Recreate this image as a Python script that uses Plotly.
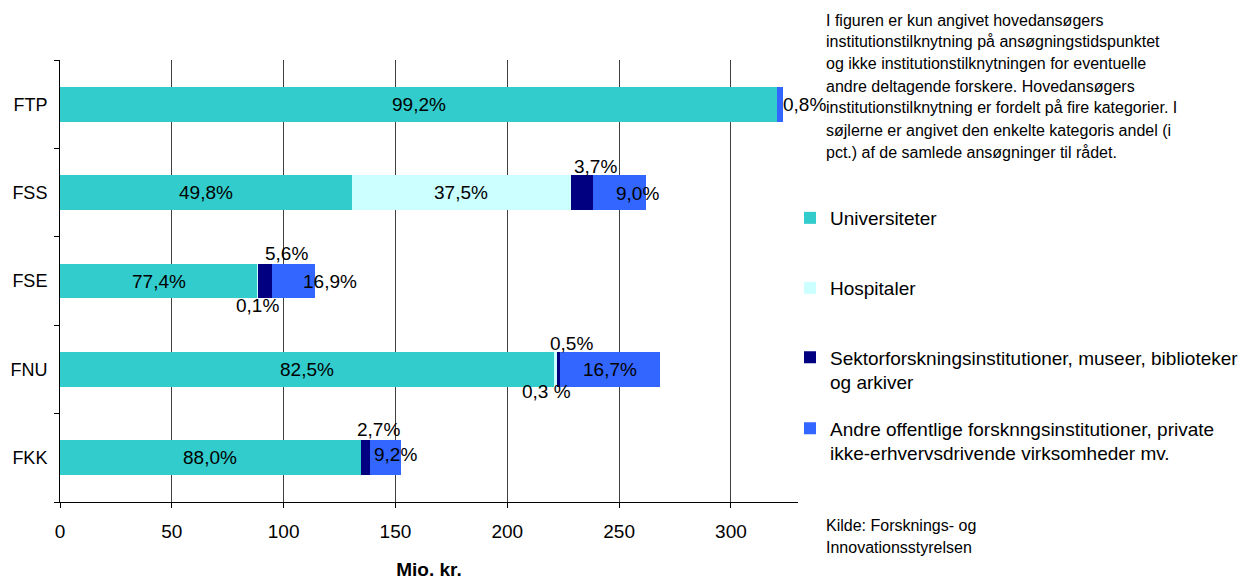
import plotly.graph_objects as go

# categories bottom -> top (plotly draws the first category at the bottom)
categories = ["FKK", "FNU", "FSE", "FSS", "FTP"]

# Mio. kr. per institution type
universiteter = [134.4, 221.3, 88.4, 130.4, 320.7]
hospitaler = [0.0, 0.8, 0.1, 98.2, 0.0]
sektor = [4.1, 1.3, 6.4, 9.7, 0.0]
andre = [14.0, 44.8, 19.3, 23.6, 2.6]

# share labels shown in the bars
univ_labels = ["88,0%", "82,5%", "77,4%", "49,8%", "99,2%"]
hosp_labels = ["", "0,3 %", "0,1%", "37,5%", ""]
sektor_labels = ["2,7%", "0,5%", "5,6%", "3,7%", ""]
andre_labels = ["9,2%", "16,7%", "16,9%", "9,0%", "0,8%"]

x_ticks = [0, 50, 100, 150, 200, 250, 300]

legend_names = [
    "Universiteter",
    "Hospitaler",
    "Sektorforskningsinstitutioner, museer, biblioteker<br>og arkiver",
    "Andre offentlige forsknngsinstitutioner, private<br>ikke-erhvervsdrivende virksomheder mv.",
]

note_lines = [
    "I figuren er kun angivet hovedansøgers",
    "institutionstilknytning på ansøgningstidspunktet",
    "og ikke institutionstilknytningen for eventuelle",
    "andre deltagende forskere. Hovedansøgers",
    "institutionstilknytning er fordelt på fire kategorier. I",
    "søjlerne er angivet den enkelte kategoris andel (i",
    "pct.) af de samlede ansøgninger til rådet.",
]
source_lines = ["Kilde: Forsknings- og", "Innovationsstyrelsen"]

# style
colors = ["#33CCCC", "#CCFFFF", "#000080", "#3366FF"]
FONT = "Liberation Sans, Arial, sans-serif"
# pixel nudges of the labels (xshift, yshift), same order as categories
offsets = [
    [(0, 0)] * 5,
    [(0, 0), (-9, -22), (0, -24), (0, 0), (0, 0)],
    [(13, 28), (13, 26), (21, 28), (13, 26), (0, 0)],
    [(10, 3), (0, 0), (36, 0), (18, -1), (24, 0)],
]

# plot area on screen: x 60..798, y 60..502 (page body adds an 8px margin)
def py(p):
    return (502 - p) / 442.0

def px(p):
    return (p - 60) / 738.0

series = [universiteter, hospitaler, sektor, andre]
labels = [univ_labels, hosp_labels, sektor_labels, andre_labels]

fig = go.Figure()
legend_keys = ["legend", "legend2", "legend3", "legend4"]
for i in range(4):
    fig.add_trace(go.Bar(
        y=categories, x=series[i], orientation="h",
        name=legend_names[i],
        marker=dict(color=colors[i], line=dict(width=0)),
        legend=legend_keys[i],
        hoverinfo="x+y",
    ))

annotations = []
base = [0.0] * len(categories)
for i in range(4):
    for j, cat in enumerate(categories):
        v = series[i][j]
        if labels[i][j]:
            annotations.append(dict(
                x=base[j] + v / 2, y=cat, xref="x", yref="y",
                text=labels[i][j], showarrow=False,
                xshift=offsets[i][j][0], yshift=offsets[i][j][1],
                font=dict(family=FONT, size=19, color="black"),
            ))
        base[j] += v

for k, line in enumerate(note_lines):
    annotations.append(dict(
        x=px(824), y=py(20 + 22 * k), xref="paper", yref="paper",
        xanchor="left", yanchor="middle", text=line, showarrow=False,
        font=dict(family=FONT, size=16, color="black"),
    ))
for k, line in enumerate(source_lines):
    annotations.append(dict(
        x=px(824), y=py(525 + 22 * k), xref="paper", yref="paper",
        xanchor="left", yanchor="middle", text=line, showarrow=False,
        font=dict(family=FONT, size=16, color="black"),
    ))

legend_tops = [218, 288, 358, 429]
leg_style = dict(
    x=px(790), xanchor="left", yanchor="middle", valign="top",
    bgcolor="rgba(0,0,0,0)", borderwidth=0,
    font=dict(family=FONT, size=19, color="black"),
)
legends = {}
for i, key in enumerate(legend_keys):
    d = dict(leg_style)
    d["y"] = py(legend_tops[i]) if i < 2 else py(legend_tops[i] + 12)
    legends[key] = d

fig.update_layout(
    template="none",
    barmode="stack",
    bargap=0.605,
    width=1250, height=572,
    margin=dict(l=52, r=460, t=52, b=78, autoexpand=False),
    paper_bgcolor="white", plot_bgcolor="white",
    font=dict(family=FONT, size=19, color="black"),
    showlegend=True,
    annotations=annotations,
    **legends,
)
fig.update_xaxes(
    range=[0, 330], tickvals=x_ticks, automargin=False,
    showgrid=True, gridcolor="#404040", gridwidth=1,
    showline=True, linecolor="black", linewidth=1,
    ticks="outside", ticklen=5, tickcolor="black",
    zeroline=False, ticklabelstandoff=7,
    tickfont=dict(family=FONT, size=19),
    title=dict(text="<b>Mio. kr.</b>", standoff=25,
               font=dict(family=FONT, size=19)),
)
fig.update_yaxes(
    automargin=False,
    showgrid=False, showline=True, linecolor="black", linewidth=1,
    ticks="outside", ticklen=5, tickcolor="black", tickson="boundaries",
    tickfont=dict(family=FONT, size=18),
    ticklabelstandoff=8,
)

fig.write_html("out.html")
